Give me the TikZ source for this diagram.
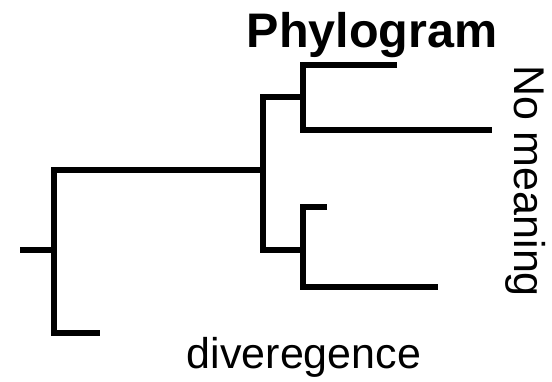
\documentclass[tikz,border=0pt]{standalone}
\usepackage{fontspec}
\setmainfont{Liberation Sans}
\begin{document}
\begin{tikzpicture}[x=1pt,y=-1pt,
  branch/.style={draw=black,line width=6pt,line cap=butt,line join=miter},
  lbl/.style={inner sep=0pt,anchor=base,font=\fontsize{43}{50}\selectfont}]
\useasboundingbox (0,0) rectangle (552,381);
% internal nodes (x = split position, y = stem height)
\coordinate (stub) at (20,250);
\coordinate (R) at (54,250);
\coordinate (A) at (263,170);
\coordinate (B) at (303,97);
\coordinate (C) at (303,250);
% leaves
\coordinate (E) at (100,333);
\coordinate (L1) at (397,65);
\coordinate (L2) at (492,130);
\coordinate (L3) at (327,207);
\coordinate (L4) at (438,287);
% branches
\draw[branch] (stub) -- (R);
\draw[branch] (A) -| (R) |- (E);
\draw[branch] (B) -| (A) |- (C);
\draw[branch] (L1) -| (B) |- (L2);
\draw[branch] (L3) -| (C) |- (L4);
% labels
\node[lbl,font=\fontsize{48.5}{56}\selectfont\bfseries] (title) at (372,47) {Phylogram};
\node[lbl,rotate=-90] (yaxis) at (514,181) {No meaning};
\node[lbl] (xaxis) at (304,368) {diveregence};
\end{tikzpicture}
\end{document}
